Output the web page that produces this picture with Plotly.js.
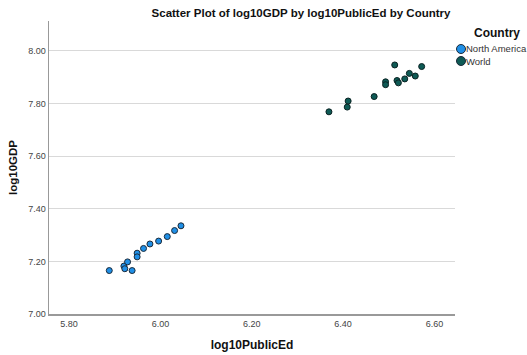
<!DOCTYPE html>
<html>
<head>
<meta charset="utf-8">
<script src="https://cdn.plot.ly/plotly-3.0.1.min.js"></script>
<style>html,body{margin:0;padding:0;background:#fff;}#chart{width:527px;height:355px;}</style>
</head>
<body>
<div id="chart"></div>
<script>
const naPublicEd = [5.888, 5.920, 5.922, 5.928, 5.938, 5.949, 5.949, 5.963, 5.977, 5.996, 6.015, 6.031, 6.045];
const naGDP      = [7.165, 7.182, 7.172, 7.198, 7.165, 7.231, 7.217, 7.249, 7.266, 7.277, 7.294, 7.317, 7.335];
const worldPublicEd = [6.369, 6.409, 6.411, 6.468, 6.493, 6.493, 6.513, 6.518, 6.521, 6.535, 6.545, 6.558, 6.572];
const worldGDP      = [7.768, 7.786, 7.809, 7.826, 7.882, 7.871, 7.946, 7.887, 7.878, 7.893, 7.914, 7.904, 7.940];
const seriesNames = ['North America', 'World'];
const seriesColors = ['#1f8fe6', '#0e5a55'];
const xTicks = [5.8, 6.0, 6.2, 6.4, 6.6];
const yTicks = [7.0, 7.2, 7.4, 7.6, 7.8, 8.0];

const font = 'Liberation Sans, Arial, sans-serif';
const W = 527, H = 355, L = 49, R = 72, T = 21, B = 41;
const pw = W - L - R, ph = H - T - B;
const px = x => (x - L) / pw;           // pixel -> paper x
const py = y => 1 - (y - T) / ph;       // pixel -> paper y

const traces = [
  {x: naPublicEd, y: naGDP, name: seriesNames[0], type: 'scatter', mode: 'markers',
   marker: {size: 6, color: seriesColors[0], line: {color: '#1a2a3a', width: 1}}},
  {x: worldPublicEd, y: worldGDP, name: seriesNames[1], type: 'scatter', mode: 'markers',
   marker: {size: 6, color: seriesColors[1], line: {color: '#0a2222', width: 1}}}
];

const legendRows = [49, 61];
const annotations = [
  {xref: 'paper', yref: 'paper', x: px(497), y: py(33), text: '<b>Country</b>', showarrow: false,
   xanchor: 'center', yanchor: 'middle', font: {family: font, size: 12, color: '#111'}}
];
const shapes = [];
seriesNames.forEach((n, i) => {
  annotations.push({xref: 'paper', yref: 'paper', x: px(464), y: py(legendRows[i]), text: n, showarrow: false,
    xanchor: 'left', yanchor: 'middle', font: {family: font, size: 9.5, color: '#333'}});
  shapes.push({type: 'circle', xref: 'paper', yref: 'paper', xsizemode: 'pixel', ysizemode: 'pixel',
    xanchor: px(461), yanchor: py(legendRows[i]), x0: -4.5, x1: 4.5, y0: -4.5, y1: 4.5,
    fillcolor: seriesColors[i], line: {color: '#1a2a3a', width: 1}});
});

const layout = {
  width: W, height: H,
  margin: {l: L, r: R, t: T, b: B, pad: 0, autoexpand: false},
  paper_bgcolor: '#fff', plot_bgcolor: '#fff',
  font: {family: font, size: 10, color: '#333'},
  showlegend: false,
  title: {text: '<b>Scatter Plot of log10GDP by log10PublicEd by Country</b>',
          font: {family: font, size: 11.5, color: '#111'},
          x: 301/W, xref: 'container', xanchor: 'center', y: 1 - 13/H, yref: 'container', yanchor: 'middle'},
  xaxis: {range: [5.756, 6.645], tickvals: xTicks, ticktext: xTicks.map(v => v.toFixed(2)),
          showgrid: false, zeroline: false, showline: true, linecolor: '#999', linewidth: 1.5,
          ticks: '', ticklabelstandoff: 1, tickfont: {size: 9, color: '#444'},
          title: {text: '<b>log10PublicEd</b>', font: {size: 12, color: '#111'}, standoff: 12}},
  yaxis: {range: [7.0, 8.113], tickvals: yTicks, ticktext: yTicks.map(v => v.toFixed(2)),
          showgrid: true, gridcolor: '#d9d9d9', gridwidth: 1, zeroline: false,
          showline: true, linecolor: '#999', linewidth: 1.5,
          ticks: '', tickfont: {size: 9, color: '#444'},
          title: {text: '<b>log10GDP</b>', font: {size: 11.5, color: '#111'}, standoff: 8}},
  annotations: annotations,
  shapes: shapes
};
Plotly.newPlot('chart', traces, layout, {displayModeBar: false, staticPlot: true});
</script>
</body>
</html>
